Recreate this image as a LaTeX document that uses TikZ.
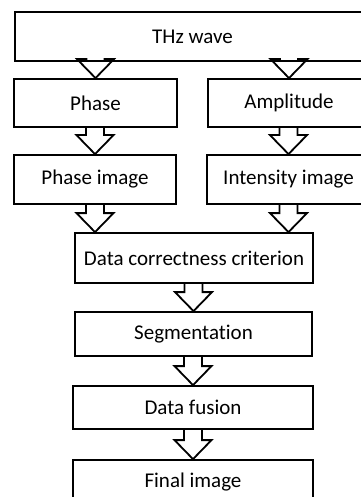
\documentclass[tikz,border=0pt]{standalone}
\usepackage{fontspec}
\setmainfont[Ligatures=NoCommon]{Carlito}
\usetikzlibrary{calc}

\begin{document}
\begin{tikzpicture}[x=1pt, y=1pt, line width=1.8pt,
  box/.style={draw, minimum height=48pt, inner sep=0pt, font=\fontsize{21}{25}\selectfont},
  blockarrow/.style={to path={let \p1=(\tikztostart), \p2=(\tikztotarget) in
    (\x2-9pt,\y1) -- (\x2-9pt,\y2+19pt) -- (\x2-18.5pt,\y2+19pt) -- (\tikztotarget)
    -- (\x2+18.5pt,\y2+19pt) -- (\x2+9pt,\y2+19pt) -- (\x2+9pt,\y1)}}]
\useasboundingbox (0,0) rectangle (360,-497);

% source and the two channels
\node[box, minimum width=355pt, minimum height=49pt] (thz) at (192.5,-36.5) {THz wave};
\node[box, minimum width=163pt] (phase) at (95.5,-103) {Phase};
\node[box, minimum width=162pt] (ampl) at (289,-103) {Amplitude};
\node[box, minimum width=162pt, minimum height=49pt] (phimg) at (95,-179.5) {Phase image};
\node[box, minimum width=163pt, minimum height=49pt] (intimg) at (288.5,-179.5) {Intensity image};

% processing chain
\node[box, minimum width=238pt, minimum height=50pt] (crit) at (194,-258) {Data correctness criterion};
\node[box, minimum width=237pt, minimum height=44pt] (seg) at (193.5,-334) {Segmentation};
\node[box, minimum width=240pt, minimum height=43pt] (fusion) at (193,-407.5) {Data fusion};
\node[box, minimum width=240pt, minimum height=44pt] (final) at (193,-482) {Final image};

% block arrows
\draw[blockarrow] (thz.south -| phase.north) to (phase.north);
\draw[blockarrow] (thz.south -| ampl.north) to (ampl.north);
\draw[blockarrow] (phimg.south) to (phimg.south |- crit.north);
\draw[blockarrow] (intimg.south) to (intimg.south |- crit.north);
\foreach \a/\b in {phase/phimg, ampl/intimg, crit/seg, seg/fusion, fusion/final}
  \draw[blockarrow] (\a.south) to (\b.north);
\end{tikzpicture}
\end{document}
